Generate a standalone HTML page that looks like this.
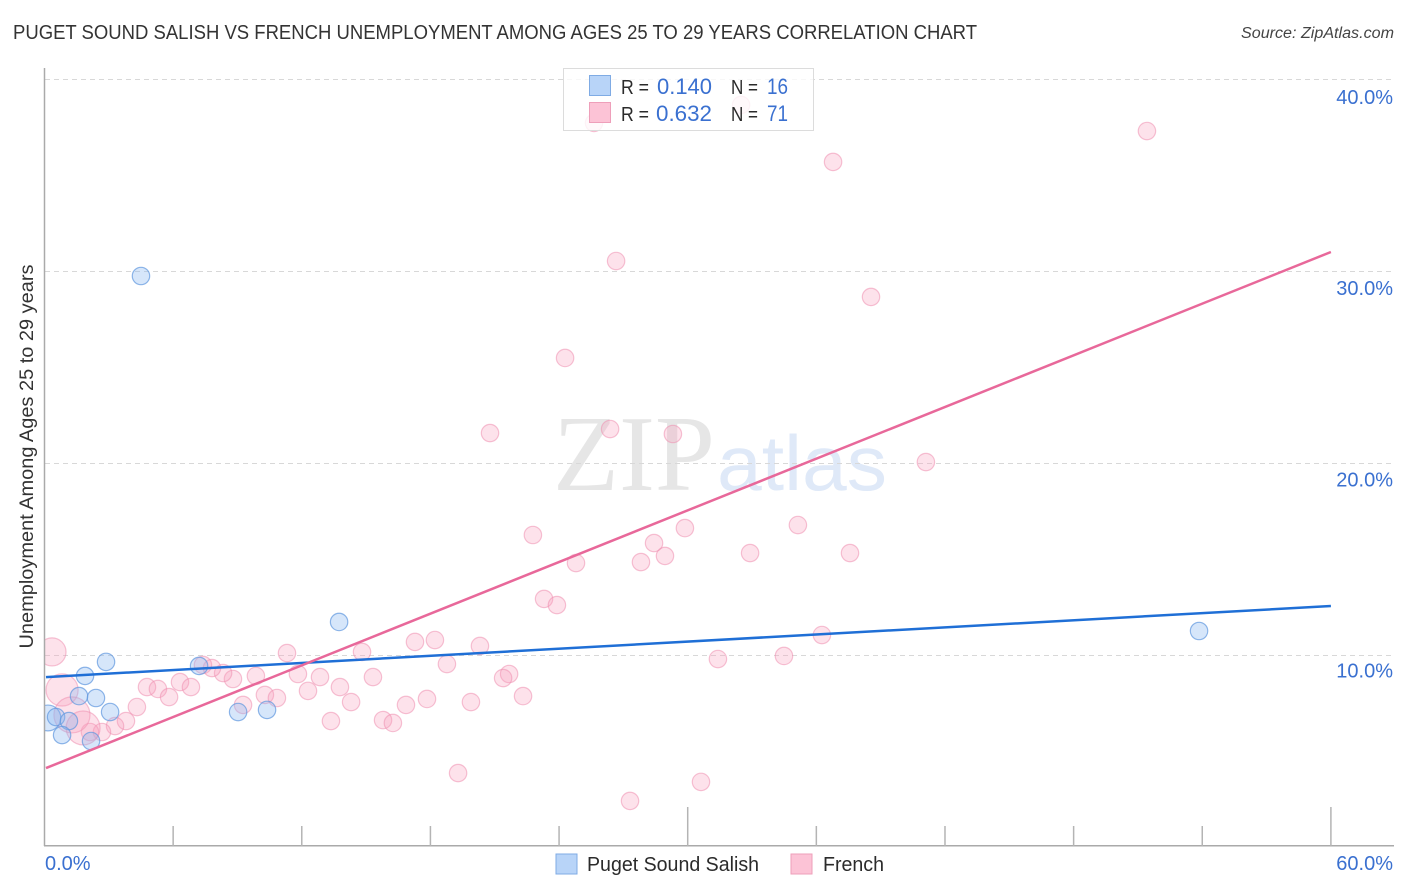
<!DOCTYPE html>
<html lang="en">
<head>
<meta charset="utf-8">
<title>Puget Sound Salish vs French Unemployment Correlation Chart</title>
<style>
html,body{margin:0;padding:0;background:#fff;}
body{width:1406px;height:892px;overflow:hidden;position:relative;font-family:"Liberation Sans",sans-serif;}
svg{position:absolute;left:0;top:0;}
text{font-family:"Liberation Sans",sans-serif;}
</style>
</head>
<body>
<svg id="chart" width="1406" height="892" viewBox="0 0 1406 892">
  <text x="13" y="39" font-size="20" fill="#333333" textLength="964" lengthAdjust="spacingAndGlyphs">PUGET SOUND SALISH VS FRENCH UNEMPLOYMENT AMONG AGES 25 TO 29 YEARS CORRELATION CHART</text>
  <text x="1394" y="38" font-size="15.5" font-style="italic" fill="#444" text-anchor="end" textLength="153" lengthAdjust="spacingAndGlyphs">Source: ZipAtlas.com</text>

  <g>
    <text x="553" y="490" font-size="108" fill="#e6e6e6" style="font-family:'Liberation Serif',serif" textLength="162" lengthAdjust="spacingAndGlyphs">ZIP</text>
    <text x="717" y="490" font-size="78" fill="#dfe9f8" textLength="170" lengthAdjust="spacingAndGlyphs">atlas</text>
  </g>

  <g id="grid"></g>
  <g id="points"></g>
  <rect x="0" y="60" width="44" height="790" fill="#ffffff"></rect>
  <g id="axes"></g>
  <g id="trends"></g>

  <text x="0" y="0" transform="translate(33,456.5) rotate(-90)" font-size="19.5" fill="#333333" text-anchor="middle" textLength="384" lengthAdjust="spacingAndGlyphs">Unemployment Among Ages 25 to 29 years</text>

  <g>
    <rect x="563.5" y="68.5" width="250" height="62" fill="#fff" fill-opacity="0.8" stroke="#dcdcdc" stroke-width="1"></rect>
    <rect x="589.5" y="75.5" width="21" height="20" fill="#b8d4f8" stroke="#7fabe4"></rect>
    <rect x="589.5" y="102.5" width="21" height="20" fill="#fcc3d6" stroke="#ee9fba"></rect>
    <text x="621" y="94" font-size="20" fill="#2b2b2b" textLength="28" lengthAdjust="spacingAndGlyphs">R =</text>
    <text x="657" y="94" font-size="22" fill="#3a70d0" textLength="55" lengthAdjust="spacingAndGlyphs">0.140</text>
    <text x="731" y="94" font-size="20" fill="#2b2b2b" textLength="27" lengthAdjust="spacingAndGlyphs">N =</text>
    <text x="767" y="94" font-size="22" fill="#3a70d0" textLength="21" lengthAdjust="spacingAndGlyphs">16</text>
    <text x="621" y="121" font-size="20" fill="#2b2b2b" textLength="28" lengthAdjust="spacingAndGlyphs">R =</text>
    <text x="656" y="121" font-size="22" fill="#3a70d0" textLength="56" lengthAdjust="spacingAndGlyphs">0.632</text>
    <text x="731" y="121" font-size="20" fill="#2b2b2b" textLength="27" lengthAdjust="spacingAndGlyphs">N =</text>
    <text x="767" y="121" font-size="22" fill="#3a70d0" textLength="21" lengthAdjust="spacingAndGlyphs">71</text>
  </g>

  <g>
    <rect x="556" y="854" width="21" height="20" fill="#b8d4f8" stroke="#7fabe4"></rect>
    <text x="587" y="871" font-size="20" fill="#2b2b2b" textLength="172" lengthAdjust="spacingAndGlyphs">Puget Sound Salish</text>
    <rect x="791" y="854" width="21" height="20" fill="#fcc3d6" stroke="#ee9fba"></rect>
    <text x="823" y="871" font-size="20" fill="#2b2b2b" textLength="61" lengthAdjust="spacingAndGlyphs">French</text>
  </g>
</svg>
<script>
var salishX = [4.50,13.74,53.85,2.87,7.21,1.89,2.40,1.61,3.06,9.03,10.38,0.16,0.54,1.14,0.82,2.17];
var salishY = [29.74,11.72,11.25,9.64,9.43,8.91,7.76,7.86,7.03,7.03,7.14,6.72,6.77,6.56,5.83,5.52];
var salishWeight = [1,1,1,1,1,1,1,1,1,1,1,2.2,1,1,1,1];

var frenchX = [51.42,36.78,32.49,25.63,26.66,38.55,24.28,20.78,26.38,29.31,41.11,22.78,29.87,35.14,28.43,27.82,28.94,32.91,37.57,24.79,23.30,23.90,36.26,31.41,34.49,18.21,17.28,20.31,14.81,11.31,18.77,21.67,21.39,15.32,11.82,12.85,9.86,8.79,8.33,7.81,7.39,6.32,4.78,5.29,6.83,5.81,10.28,10.84,12.29,13.78,14.30,16.86,17.84,19.89,22.32,9.26,4.31,13.36,15.79,16.25,3.80,3.29,2.68,2.12,19.29,27.31,30.62,0.35,0.82,1.28,1.80];
var frenchY = [37.29,35.68,38.65,37.71,30.52,28.65,25.47,21.56,21.77,21.51,20.05,16.25,16.61,16.77,15.83,14.84,15.16,15.31,15.31,14.79,12.92,12.60,11.04,9.79,9.95,10.78,10.68,10.47,10.16,10.10,9.53,9.01,8.80,8.85,9.01,8.85,8.91,8.75,9.06,9.32,9.48,8.59,8.33,8.23,8.33,7.81,7.92,7.76,8.13,8.33,7.55,7.40,7.71,7.55,7.86,7.40,7.29,6.56,6.61,6.46,6.56,6.30,5.99,5.99,3.85,2.40,3.39,10.16,8.18,6.88,6.20];
var frenchWeight = [1,1,1,1,1,1,1,1,1,1,1,1,1,1,1,1,1,1,1,1,1,1,1,1,1,1,1,1,1,1,1,1,1,1,1,1,1,1,1,1,1,1,1,1,1,1,1,1,1,1,1,1,1,1,1,1,1,1,1,1,1,1,1,1,1,1,1,2.6,3.4,4.3,3.8];

var salishTrendX = [0.07,60];
var salishTrendY = [8.85,12.55];
var frenchTrendX = [0.07,60];
var frenchTrendY = [4.11,30.99];

var xTicks = [0,6,12,18,24,30,36,42,48,54,60];
var xMajorTicks = [30,60];
var xLabelValues = [0,60];
var xLabelText = ['0.0%','60.0%'];
var yTicks = [10,20,30,40];
var yTickLabels = ['10.0%','20.0%','30.0%','40.0%'];

function xScale(v){ return 44.5 + v * 21.44; }
function yScale(v){ return 847 - v * 19.2; }
function radius(w){ return 8.7 * Math.sqrt(w); }

var NS = 'http://www.w3.org/2000/svg';
function make(tag, parent, attrs){
  var el = document.createElementNS(NS, tag);
  for (var k in attrs) el.setAttribute(k, attrs[k]);
  parent.appendChild(el);
  return el;
}

var grid = document.getElementById('grid');
var axes = document.getElementById('axes');
var points = document.getElementById('points');
var trends = document.getElementById('trends');

yTicks.forEach(function(t, i){
  var line = make('line', grid, {x1:45, x2:1394, y1:yScale(t)+0.5, y2:yScale(t)+0.5, stroke:'#d8d8d8', 'stroke-width':1, 'stroke-dasharray':'5 4'});
  
  
  var label = make('text', axes, {x:1393, y:yScale(t)+25-(40-t)*0.08, 'font-size':20, fill:'#3a70d0', 'text-anchor':'end'});
  label.textContent = yTickLabels[i];
  
  
});

var yAxis = make('line', axes, {x1:44.5, x2:44.5, y1:68, y2:846, stroke:'#aaaaaa', 'stroke-width':1.5});


var xAxis = make('line', axes, {x1:44, x2:1394, y1:845.7, y2:845.7, stroke:'#aaaaaa', 'stroke-width':1.5});



xTicks.forEach(function(t){
  if (t === 0) return;
  var top = xMajorTicks.indexOf(t) >= 0 ? 807 : 826;
  var tick = make('line', axes, {x1:xScale(t), x2:xScale(t), y1:top, y2:846, stroke:'#b4b4b4', 'stroke-width':1.5});
  
  
});

xLabelValues.forEach(function(t, i){
  var label = make('text', axes, {x: i === 0 ? 45 : 1393, y:870, 'font-size':20, fill:'#3a70d0', 'text-anchor': i === 0 ? 'start' : 'end'});
  label.textContent = xLabelText[i];
  
  
});

frenchX.forEach(function(v, i){
  var c = make('circle', points, {cx:xScale(v), cy:yScale(frenchY[i]), r:radius(frenchWeight[i]), fill:'#f79fbd', 'fill-opacity':0.3, stroke:'#ee8fb0', 'stroke-opacity':0.55, 'stroke-width':1.2});
  
  
});
salishX.forEach(function(v, i){
  var c = make('circle', points, {cx:xScale(v), cy:yScale(salishY[i]), r:radius(salishWeight[i]), fill:'#8ab8f0', 'fill-opacity':0.35, stroke:'#5f97de', 'stroke-opacity':0.7, 'stroke-width':1.2});
  
  
});

var salishLine = make('line', trends, {x1:xScale(salishTrendX[0]), y1:yScale(salishTrendY[0]), x2:xScale(salishTrendX[1]), y2:yScale(salishTrendY[1]), stroke:'#1f6fd6', 'stroke-width':2.5});


var frenchLine = make('line', trends, {x1:xScale(frenchTrendX[0]), y1:yScale(frenchTrendY[0]), x2:xScale(frenchTrendX[1]), y2:yScale(frenchTrendY[1]), stroke:'#e8689a', 'stroke-width':2.5});


</script>
</body>
</html>
